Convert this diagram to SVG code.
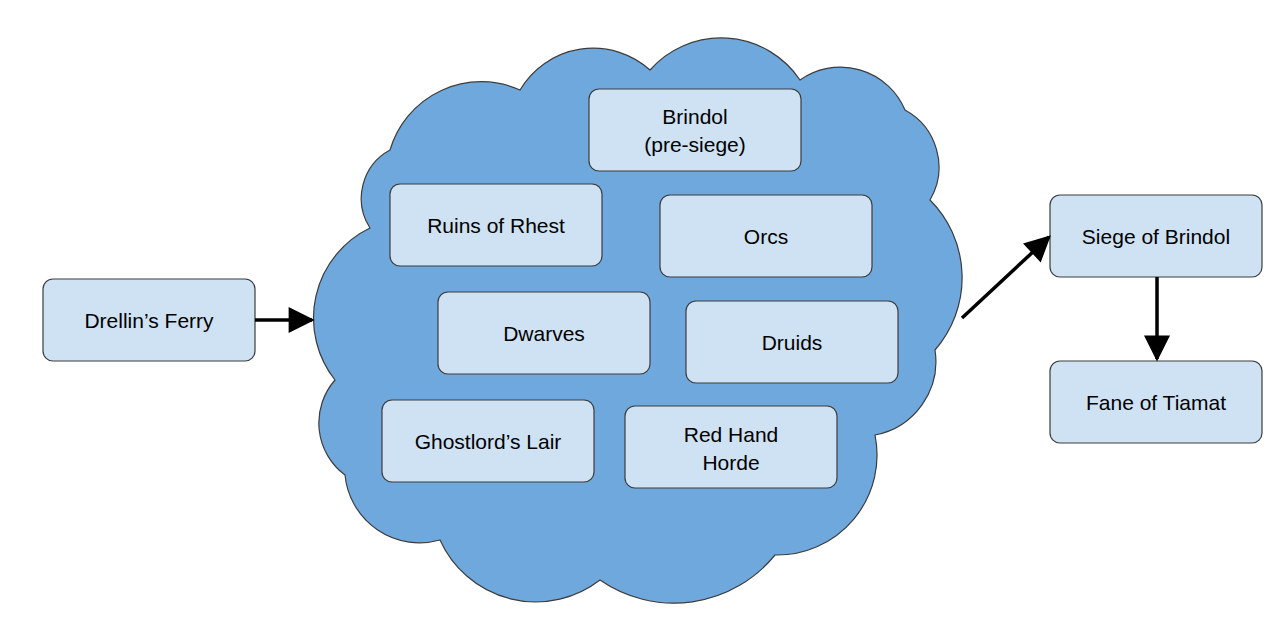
<svg xmlns="http://www.w3.org/2000/svg" width="1288" height="634" viewBox="0 0 1288 634">
<style>
.b{fill:#cfe2f3;stroke:#3c3c3c;stroke-width:1.2}
text{font-family:"Liberation Sans",Arial,sans-serif;font-size:21px;fill:#000;text-anchor:middle}
.c{stroke:#000;stroke-width:3.5;fill:none}
</style>
<defs>
<marker id="h" viewBox="0 0 10 10" refX="9" refY="5" markerWidth="30" markerHeight="26" markerUnits="userSpaceOnUse" orient="auto"><path d="M0,0L10,5L0,10z" fill="#000"/></marker></defs>
<rect width="1288" height="634" fill="#fff"/>
<g id="cloud"><path fill="#6fa8dc" stroke="#3c3c3c" stroke-width="1.2" d="M335,380 A100,100 0 0 1 370,228 A55,55 0 0 1 390,150 A95,95 0 0 1 520,90 A85,85 0 0 1 650,70 A95,95 0 0 1 800,80 A70,70 0 0 1 905,110 A65,65 0 0 1 930,200 A110,110 0 0 1 935,350 A75,75 0 0 1 875,435 A100,100 0 0 1 775,555 A130,130 0 0 1 600,580 A105,105 0 0 1 440,540 A75,75 0 0 1 345,475 A65,65 0 0 1 335,380 Z"/></g>
<g id="brindol"><rect class="b" x="589" y="89" width="212" height="82" rx="10"/><text x="695" y="124">Brindol</text><text x="695" y="152">(pre-siege)</text></g>
<g id="rhest"><rect class="b" x="390" y="184" width="212" height="82" rx="10"/><text x="496" y="233">Ruins of Rhest</text></g>
<g id="orcs"><rect class="b" x="660" y="195" width="212" height="82" rx="10"/><text x="766" y="244">Orcs</text></g>
<g id="dwarves"><rect class="b" x="438" y="292" width="212" height="82" rx="10"/><text x="544" y="341">Dwarves</text></g>
<g id="druids"><rect class="b" x="686" y="301" width="212" height="82" rx="10"/><text x="792" y="350">Druids</text></g>
<g id="ghost"><rect class="b" x="382" y="400" width="212" height="82" rx="10"/><text x="488" y="449">Ghostlord’s Lair</text></g>
<g id="redhand"><rect class="b" x="625" y="406" width="212" height="82" rx="10"/><text x="731" y="442">Red Hand</text><text x="731" y="470">Horde</text></g>
<g id="ferry"><rect class="b" x="43" y="279" width="212" height="82" rx="10"/><text x="149" y="328">Drellin’s Ferry</text></g>
<g id="siege"><rect class="b" x="1050" y="195" width="212" height="82" rx="10"/><text x="1156" y="244">Siege of Brindol</text></g>
<g id="fane"><rect class="b" x="1050" y="361" width="212" height="82" rx="10"/><text x="1156" y="410">Fane of Tiamat</text></g>
<g id="connectors">
<path class="c" d="M255,320H312" marker-end="url(#h)"/>
<path class="c" d="M962,318L1049,237" marker-end="url(#h)"/>
<path class="c" d="M1157,277V359" marker-end="url(#h)"/>
</g>
</svg>
